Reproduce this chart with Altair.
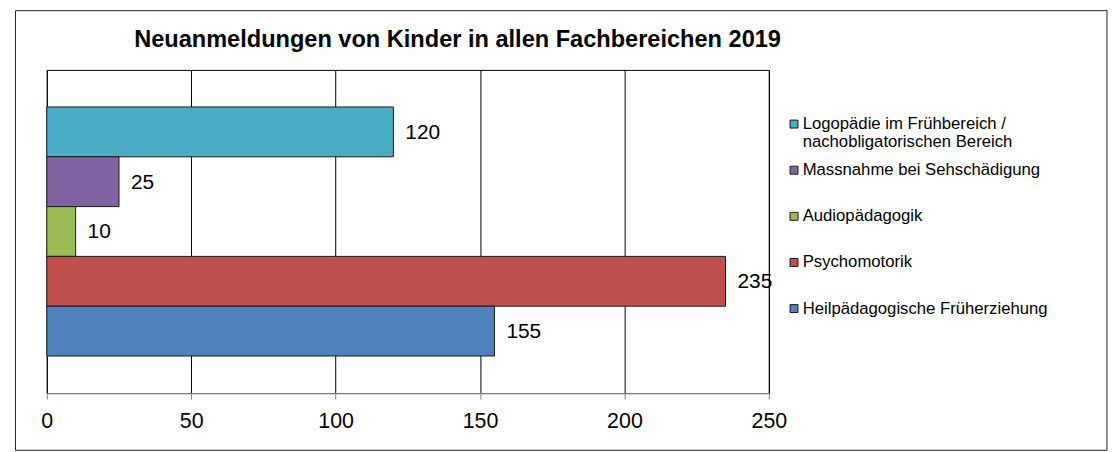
import altair as alt
import pandas as pd

TITLE = "Neuanmeldungen von Kinder in allen Fachbereichen 2019"

# top-to-bottom order as drawn in the chart
series = [
    "Logopädie im Frühbereich / nachobligatorischen Bereich",
    "Massnahme bei Sehschädigung",
    "Audiopädagogik",
    "Psychomotorik",
    "Heilpädagogische Früherziehung",
]
legend_labels = [
    "Logopädie im Frühbereich /\nnachobligatorischen Bereich",
    "Massnahme bei Sehschädigung",
    "Audiopädagogik",
    "Psychomotorik",
    "Heilpädagogische Früherziehung",
]
values = [120, 25, 10, 235, 155]
colors = ["#4BACC6", "#8064A2", "#9BBB59", "#C0504D", "#4F81BD"]
x_ticks = [0, 50, 100, 150, 200, 250]

FONT = "Liberation Sans, Arial, sans-serif"

df = pd.DataFrame({"series": series, "value": values, "legend": legend_labels})

color_scale = alt.Scale(domain=series, range=colors)

base = alt.Chart(df)

bars = base.mark_bar(stroke="#1a1a1a", strokeWidth=1).encode(
    y=alt.Y("series:N", sort=series, axis=None,
            scale=alt.Scale(paddingInner=0, paddingOuter=0.745)),
    x=alt.X("value:Q",
            scale=alt.Scale(domain=[0, 250], nice=False),
            axis=alt.Axis(values=x_ticks, title=None, grid=True, gridColor="#000000",
                          gridWidth=1, domainColor="#868686", tickColor="#868686",
                          tickSize=6, labelFontSize=21.5, labelFont=FONT,
                          labelColor="#000000", labelPadding=11.5,
                          labelFlush=False, labelOverlap=False)),
    color=alt.Color("series:N", scale=color_scale, legend=None),
)

labels = base.mark_text(align="left", baseline="middle", dx=12, dy=1,
                        fontSize=21, font=FONT, color="#000000").encode(
    y=alt.Y("series:N", sort=series),
    x=alt.X("value:Q"),
    text=alt.Text("value:Q"),
)

title_df = pd.DataFrame({"t": [TITLE]})
title = alt.Chart(title_df).mark_text(align="center", baseline="alphabetic",
                                      fontSize=23.7, fontWeight="bold", font=FONT,
                                      color="#000000").encode(
    text="t:N", x=alt.value(413), y=alt.value(-23.2)
)

border = alt.Chart(title_df).mark_rect(filled=False, stroke="#222222", strokeWidth=1,
                                      fill="transparent").encode(
    x=alt.value(-31.5), x2=alt.value(1066), y=alt.value(-59.5), y2=alt.value(382.5)
)

bar_panel = alt.layer(border, bars, labels, title).properties(width=726, height=325)

leg_base = alt.Chart(df)
leg_y = alt.Y("series:N", axis=None,
              scale=alt.Scale(type="point", domain=series, range=[54.5, 240], padding=0))
leg_sym = leg_base.mark_square(size=64, stroke="#1a1a1a", strokeWidth=1, opacity=1).encode(
    x=alt.value(7.3),
    y=leg_y,
    color=alt.Color("series:N", scale=color_scale, legend=None),
)
leg_txt = leg_base.mark_text(align="left", baseline="alphabetic", dy=5, fontSize=16.8,
                             font=FONT, color="#000000", lineBreak="\n",
                             lineHeight=18.4).encode(
    x=alt.value(16),
    y=leg_y,
    text="legend:N",
)
legend_panel = alt.layer(leg_sym, leg_txt).properties(
    width=300, height=325, view=alt.ViewBackground(stroke="transparent")
)

chart = alt.hconcat(bar_panel, legend_panel, spacing=18, bounds="flush").resolve_scale(
    x="independent", y="independent", color="independent"
).properties(
    padding={"left": 6, "top": 0, "right": 0, "bottom": 0},
    background="white",
).configure_view(stroke="#000000", strokeWidth=1)

chart.save("out.html", embed_options={"renderer": "svg", "actions": False})
